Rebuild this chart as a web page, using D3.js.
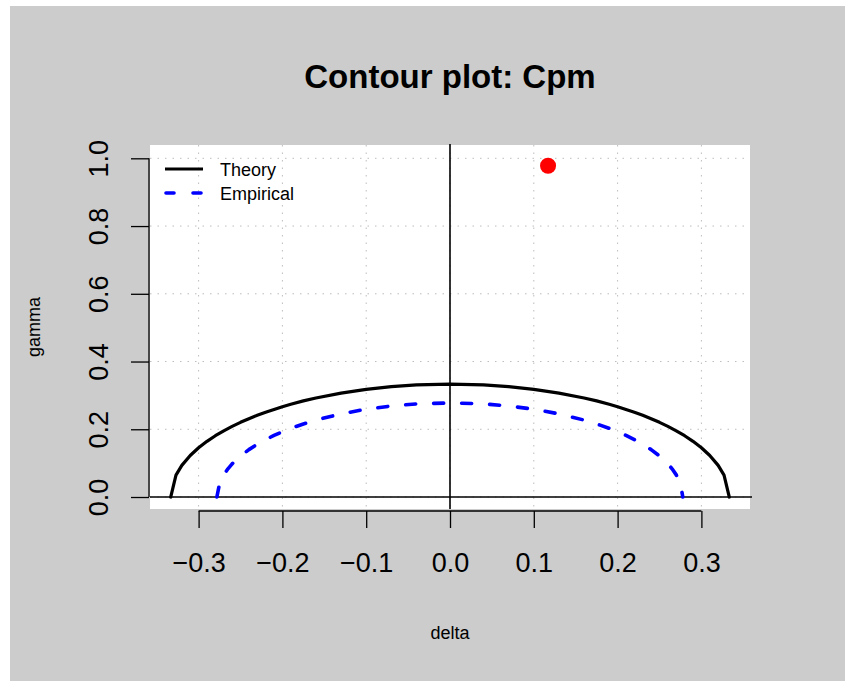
<!DOCTYPE html>
<html>
<head>
<meta charset="utf-8">
<script src="https://cdn.jsdelivr.net/npm/d3@7"></script>
<style>
  html, body { margin: 0; padding: 0; background: #ffffff; }
  svg { display: block; font-family: "Liberation Sans", Arial, Helvetica, sans-serif; }
</style>
</head>
<body>
<svg id="chart" width="845" height="681"></svg>
<script>
// ---------------- data ----------------
const chartTitle = "Contour plot: Cpm";
const xLabel = "delta";
const yLabel = "gamma";
const xTicks = [-0.3, -0.2, -0.1, 0.0, 0.1, 0.2, 0.3];
const yTicks = [0.0, 0.2, 0.4, 0.6, 0.8, 1.0];

// Theory contour (Cpm = 1)
const theoryDelta = [-0.3333, -0.327, -0.32, -0.31, -0.30, -0.29, -0.28, -0.27, -0.26, -0.25, -0.24, -0.23, -0.22, -0.20, -0.19, -0.175, -0.16, -0.13, -0.10, -0.07, -0.04, 0.0,
                     0.04, 0.07, 0.10, 0.13, 0.16, 0.175, 0.19, 0.20, 0.22, 0.23, 0.24, 0.25, 0.26, 0.27, 0.28, 0.29, 0.30, 0.31, 0.32, 0.327, 0.3333];
const theoryGamma = [0.0, 0.0647, 0.0933, 0.1225, 0.1453, 0.1644, 0.1809, 0.1955, 0.2086, 0.2205, 0.2313, 0.2413, 0.2504, 0.2667, 0.2739, 0.2837, 0.2924, 0.3069, 0.3180, 0.3259, 0.3309, 0.3333,
                     0.3309, 0.3259, 0.3180, 0.3069, 0.2924, 0.2837, 0.2739, 0.2667, 0.2504, 0.2413, 0.2313, 0.2205, 0.2086, 0.1955, 0.1809, 0.1644, 0.1453, 0.1225, 0.0933, 0.0647, 0.0];

// Empirical contour
const empiricalDelta = [-0.2782, -0.275, -0.27, -0.265, -0.26, -0.255, -0.25, -0.24, -0.23, -0.22, -0.21, -0.20, -0.19, -0.175, -0.16, -0.13, -0.10, -0.07, -0.04, 0.0,
                        0.04, 0.07, 0.10, 0.13, 0.16, 0.175, 0.19, 0.20, 0.21, 0.22, 0.23, 0.24, 0.25, 0.255, 0.26, 0.265, 0.27, 0.275, 0.2778];
const empiricalGamma = [0.0, 0.0392, 0.0653, 0.0833, 0.0978, 0.1102, 0.1211, 0.1399, 0.1558, 0.1696, 0.1818, 0.1928, 0.2026, 0.2157, 0.2271, 0.2455, 0.2592, 0.2688, 0.2749, 0.2778,
                        0.2749, 0.2688, 0.2592, 0.2455, 0.2271, 0.2157, 0.2026, 0.1928, 0.1818, 0.1696, 0.1558, 0.1399, 0.1211, 0.1102, 0.0978, 0.0833, 0.0653, 0.0392, 0.0];

// Sample point
const pointDelta = [0.117];
const pointGamma = [0.978];

const legendLabels = ["Theory", "Empirical"];

// ---------------- drawing ----------------
const svg = d3.select("#chart");
const W = 845, H = 681;
const plot = { left: 150, right: 750, top: 145, bottom: 509 };

// figure background
svg.append("rect").attr("x", 10).attr("y", 6).attr("width", W - 10).attr("height", H - 6).attr("fill", "#cccccc");

const x = d3.scaleLinear().domain([-0.358, 0.358]).range([plot.left, plot.right]);
const y = d3.scaleLinear().domain([-0.0354, 1.0393]).range([plot.bottom, plot.top]);

// plot panel
svg.append("rect")
  .attr("x", plot.left).attr("y", plot.top)
  .attr("width", plot.right - plot.left).attr("height", plot.bottom - plot.top)
  .attr("fill", "#ffffff");

// grid
const grid = svg.append("g").attr("stroke", "#bdbdbd").attr("stroke-width", 1).attr("stroke-dasharray", "1.5,6");
grid.selectAll("line.v").data(xTicks).join("line")
  .attr("x1", d => x(d)).attr("x2", d => x(d))
  .attr("y1", plot.top).attr("y2", plot.bottom);
grid.selectAll("line.h").data(yTicks).join("line")
  .attr("x1", plot.left).attr("x2", plot.right)
  .attr("y1", d => y(d)).attr("y2", d => y(d));

// reference lines
svg.append("line").attr("x1", plot.left).attr("x2", plot.right + 2)
  .attr("y1", y(0)).attr("y2", y(0)).attr("stroke", "#000").attr("stroke-width", 1.6);
svg.append("line").attr("x1", x(0)).attr("x2", x(0))
  .attr("y1", plot.top - 1).attr("y2", plot.bottom).attr("stroke", "#000").attr("stroke-width", 1.6);

// curves
const line = d3.line().x(d => x(d[0])).y(d => y(d[1]));
const theoryPts = theoryDelta.map((d, i) => [d, theoryGamma[i]]);
const empPts = empiricalDelta.map((d, i) => [d, empiricalGamma[i]]);

svg.append("path").attr("d", line(theoryPts))
  .attr("fill", "none").attr("stroke", "#000").attr("stroke-width", 3.2)
  .attr("stroke-linejoin", "round").attr("stroke-linecap", "round");
svg.append("path").attr("d", line(empPts))
  .attr("fill", "none").attr("stroke", "#0000ff").attr("stroke-width", 3.6)
  .attr("stroke-dasharray", "10,18").attr("stroke-linecap", "round").attr("stroke-linejoin", "round");

// point
svg.selectAll("circle.pt").data(pointDelta).join("circle")
  .attr("cx", d => x(d)).attr("cy", (d, i) => y(pointGamma[i])).attr("r", 8).attr("fill", "#ff0000");

// x axis
const xAxis = svg.append("g").attr("transform", `translate(0,${plot.bottom + 2})`)
  .call(d3.axisBottom(x).tickValues(xTicks).tickSize(17).tickSizeOuter(0).tickFormat(d3.format(".1f")));
xAxis.select(".domain").remove();
xAxis.append("line").attr("x1", x(xTicks[0])).attr("x2", x(xTicks[xTicks.length - 1]))
  .attr("y1", 0).attr("y2", 0).attr("stroke", "#000").attr("stroke-width", 1.3);
xAxis.selectAll(".tick line").attr("stroke", "#000").attr("stroke-width", 1.3);
xAxis.selectAll(".tick text").attr("y", 61).attr("dy", null)
  .attr("font-size", 27).attr("fill", "#000").attr("font-family", "Liberation Sans, Arial, sans-serif");

// y axis
const yAxis = svg.append("g").attr("transform", `translate(${plot.left - 1},0)`)
  .call(d3.axisLeft(y).tickValues(yTicks).tickSize(18).tickSizeOuter(0).tickFormat(d3.format(".1f")));
yAxis.select(".domain").remove();
yAxis.append("line").attr("x1", 0).attr("x2", 0)
  .attr("y1", y(yTicks[0])).attr("y2", y(yTicks[yTicks.length - 1])).attr("stroke", "#000").attr("stroke-width", 1.3);
yAxis.selectAll(".tick line").attr("stroke", "#000").attr("stroke-width", 1.3);
yAxis.selectAll(".tick text").attr("x", 0).attr("y", -41).attr("dy", null)
  .attr("transform", "rotate(-90)").attr("text-anchor", "middle")
  .attr("font-size", 27).attr("fill", "#000").attr("font-family", "Liberation Sans, Arial, sans-serif");

// titles
svg.append("text").attr("x", 450).attr("y", 88).attr("text-anchor", "middle")
  .attr("font-size", 33).attr("font-weight", "bold").text(chartTitle);
svg.append("text").attr("x", 450).attr("y", 639).attr("text-anchor", "middle")
  .attr("font-size", 18).text(xLabel);
svg.append("text").attr("transform", "translate(40,327) rotate(-90)").attr("text-anchor", "middle")
  .attr("font-size", 18).text(yLabel);

// legend
const legend = svg.append("g");
const legendY = [169, 193];
legend.append("line").attr("x1", 165).attr("x2", 203).attr("y1", legendY[0]).attr("y2", legendY[0])
  .attr("stroke", "#000").attr("stroke-width", 3.2);
legend.append("line").attr("x1", 166).attr("x2", 202).attr("y1", legendY[1]).attr("y2", legendY[1])
  .attr("stroke", "#0000ff").attr("stroke-width", 3.6).attr("stroke-dasharray", "8,19").attr("stroke-linecap", "round");
legend.selectAll("text").data(legendLabels).join("text")
  .attr("x", 220).attr("y", (d, i) => legendY[i] + 6.5).attr("font-size", 18).text(d => d);
</script>
</body>
</html>
